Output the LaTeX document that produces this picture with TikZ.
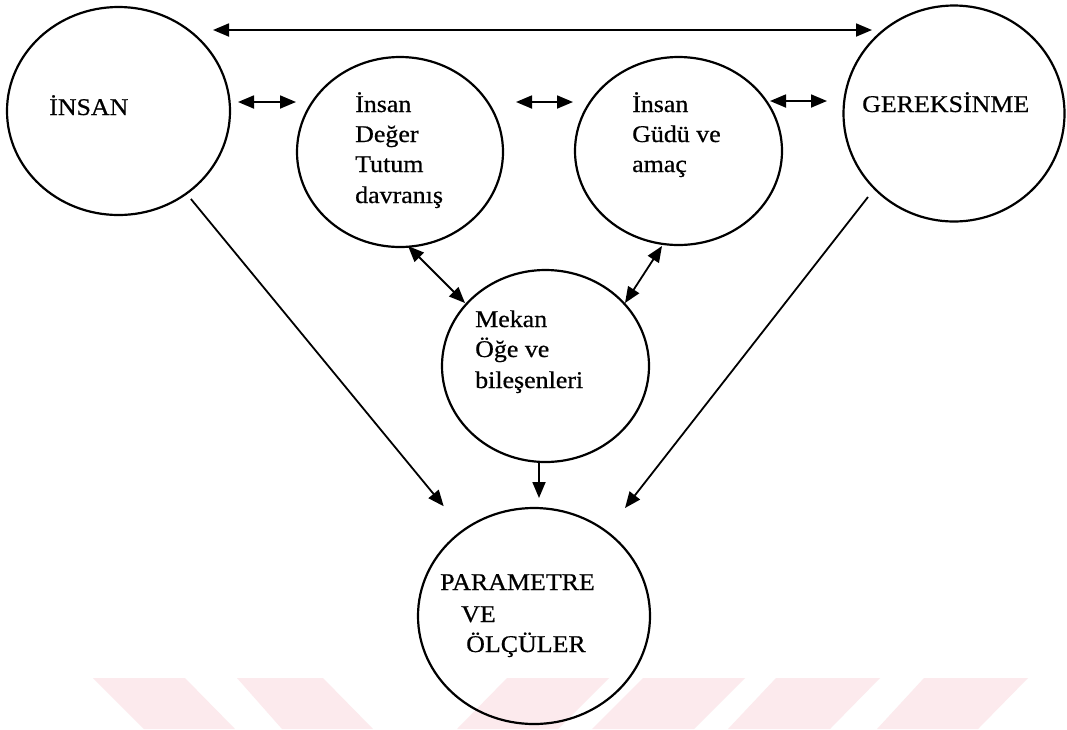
\documentclass[tikz,border=0pt]{standalone}
\usepackage{fontspec}
\setmainfont{Liberation Serif}[FakeStretch=1.08,FakeBold=0.6]
\usetikzlibrary{shapes.geometric,arrows.meta}
\definecolor{wmpink}{RGB}{252,234,237}
\tikzset{
  circ/.style={draw, ellipse, line width=2.2pt, inner sep=0pt},
  lbl/.style={anchor=base west, inner sep=0pt, font=\fontsize{24}{30}\selectfont},
  conn/.style={line width=1.8pt},
  tip/.style={-{Triangle[length=16pt,width=13pt]}},
  dtip/.style={{Triangle[length=16pt,width=13pt]}-{Triangle[length=16pt,width=13pt]}},
  wm/.style={fill=wmpink, draw=none}
}
\begin{document}
\begin{tikzpicture}[x=1pt,y=-1pt]
\useasboundingbox (0,0) rectangle (1067,729);
\fill[white] (0,0) rectangle (1067,729);
% watermark stripes
\fill[wm] (93,678) -- (185,678) -- (235,729) -- (144,729) -- cycle;
\fill[wm] (237,678) -- (323,678) -- (373,729) -- (282,729) -- cycle;
\fill[wm] (507,678) -- (609,678) -- (558,729) -- (457,729) -- cycle;
\fill[wm] (643,678) -- (745,678) -- (694,729) -- (592,729) -- cycle;
\fill[wm] (776,678) -- (880,678) -- (830,729) -- (728,729) -- cycle;
\fill[wm] (924,678) -- (1028,678) -- (978,729) -- (877,729) -- cycle;
% circles
\node[circ, minimum width=223pt, minimum height=208pt] (insan) at (118.5,111) {};
\node[circ, minimum width=206pt, minimum height=190pt] (deger) at (400,152) {};
\node[circ, minimum width=207pt, minimum height=188pt] (gudu) at (678.5,151) {};
\node[circ, minimum width=221pt, minimum height=216pt] (gerek) at (954,113.5) {};
\node[circ, minimum width=207pt, minimum height=192pt] (mekan) at (545.5,366) {};
\node[circ, minimum width=232pt, minimum height=216pt] (param) at (534,616) {};
% texts
\node[lbl] (tinsan) at (49,115) {İNSAN};
\node[lbl] (tgerek) at (862,112) {GEREKSİNME};
\node[lbl] (d1) at (355,112) {İnsan};
\node[lbl] (d2) at (355,142) {Değer};
\node[lbl] (d3) at (355,172) {Tutum};
\node[lbl] (d4) at (355,203) {davranış};
\node[lbl] (g1) at (632,112) {İnsan};
\node[lbl] (g2) at (632,142) {Güdü ve};
\node[lbl] (g3) at (632,172) {amaç};
\node[lbl] (m1) at (475,327) {Mekan};
\node[lbl] (m2) at (475,357) {Öğe ve};
\node[lbl] (m3) at (475,388) {bileşenleri};
\node[lbl] (p1) at (440,590) {PARAMETRE};
\node[lbl] (p2) at (461,622) {VE};
\node[lbl] (p3) at (466,652) {ÖLÇÜLER};
% connector end points
\coordinate (topL) at (213,30);
\coordinate (topR) at (872,30);
\coordinate (idL) at (238,102);
\coordinate (idR) at (296,102);
\coordinate (dgL) at (516,102);
\coordinate (dgR) at (573,102);
\coordinate (ggL) at (770,101);
\coordinate (ggR) at (827,101);
\coordinate (dmA) at (408,246);
\coordinate (dmB) at (465,303);
\coordinate (gmA) at (662,246);
\coordinate (gmB) at (625,303);
\coordinate (mpA) at (539,462);
\coordinate (mpB) at (539,498);
\coordinate (gpA) at (868,197);
\coordinate (gpB) at (625,508);
% connectors
\draw[conn, dtip] (topL) -- (topR);
\draw[conn, dtip] (idL) -- (idR);
\draw[conn, dtip] (dgL) -- (dgR);
\draw[conn, dtip] (ggL) -- (ggR);
\draw[conn, dtip] (dmA) -- (dmB);
\draw[conn, dtip] (gmA) -- (gmB);
\draw[conn, tip] (mpA) -- (mpB);
\draw[conn, tip, shorten <=6pt, shorten >=30pt] (insan) -- (param);
\draw[conn, tip] (gpA) -- (gpB);
\end{tikzpicture}
\end{document}
